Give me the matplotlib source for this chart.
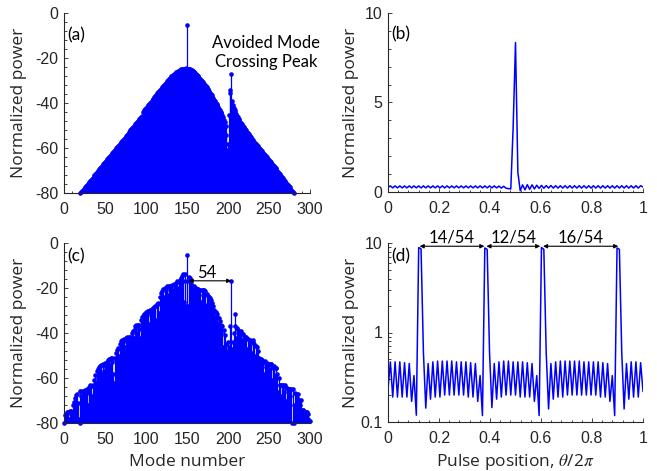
import numpy as np
import matplotlib
matplotlib.use("Agg")
import matplotlib.pyplot as plt
from matplotlib.ticker import AutoMinorLocator, FixedLocator, FixedFormatter, LogLocator, NullFormatter

plt.rcParams['font.family'] = ['Liberation Sans', 'DejaVu Sans']
plt.rcParams['axes.unicode_minus'] = False
plt.rcParams['mathtext.fontset'] = 'stix'

BLUE = '#0000ff'
GREY = '#262626'
ANNO = ['Lato', 'DejaVu Sans']
LABEL = ['Open Sans', 'DejaVu Sans']

# (a) single soliton comb, modes 20..280 (dB)
a_modes = np.arange(20, 281)
a_power = [
    -80.0, -79.5, -79.1, -78.6, -78.2, -77.7, -77.3, -76.8, -76.4, -75.9,
    -75.4, -75.0, -74.5, -74.1, -73.6, -73.2, -72.7, -72.2, -71.8, -71.3,
    -70.9, -70.4, -70.0, -69.5, -69.1, -68.6, -68.1, -67.7, -67.2, -66.8,
    -66.3, -65.9, -65.4, -65.0, -64.5, -64.0, -63.6, -63.1, -62.7, -62.2,
    -61.8, -61.3, -60.9, -60.4, -59.9, -59.5, -59.0, -58.6, -58.1, -57.7,
    -57.2, -56.8, -56.3, -55.8, -55.4, -54.9, -54.5, -54.0, -53.6, -53.1,
    -52.6, -52.2, -51.7, -51.3, -50.8, -50.4, -49.9, -49.5, -49.0, -48.5,
    -48.1, -47.6, -47.2, -46.7, -46.3, -45.8, -44.2, -44.0, -43.2, -42.7,
    -42.2, -41.8, -41.3, -40.8, -40.3, -39.9, -39.4, -38.9, -38.4, -38.0,
    -37.5, -37.0, -36.6, -36.1, -35.6, -35.2, -34.7, -34.2, -33.8, -33.4,
    -33.0, -32.6, -32.1, -31.7, -31.2, -30.8, -30.3, -29.9, -29.4, -29.0,
    -28.6, -28.2, -27.8, -27.5, -27.2, -26.9, -26.6, -26.3, -26.1, -25.9,
    -25.7, -25.5, -25.3, -25.1, -25.0, -24.9, -24.8, -24.7, -24.7, -24.6,
    -5.5, -24.7, -24.8, -24.9, -25.0, -25.2, -25.4, -25.7, -26.0, -26.3,
    -26.6, -27.0, -27.4, -27.8, -28.2, -28.7, -29.2, -29.6, -30.1, -30.6,
    -31.1, -31.6, -32.1, -32.6, -33.1, -33.6, -34.2, -34.8, -35.4, -36.0,
    -36.6, -37.2, -37.9, -38.5, -39.2, -39.8, -40.5, -41.1, -41.8, -42.5,
    -43.1, -43.8, -44.6, -45.4, -46.4, -47.5, -48.6, -50.2, -54.0, -61.0,
    -58.0, -45.5, -34.0, -35.5, -27.0, -39.0, -40.8, -42.0, -43.2, -44.0,
    -44.8, -45.6, -46.3, -47.0, -47.7, -48.3, -48.9, -49.5, -50.1, -50.6,
    -51.1, -51.7, -52.2, -52.8, -53.3, -53.8, -54.3, -54.8, -55.3, -55.8,
    -56.3, -56.8, -57.3, -57.8, -58.3, -58.7, -59.2, -59.6, -60.1, -60.5,
    -60.9, -61.4, -61.8, -62.2, -62.6, -63.1, -63.5, -63.9, -64.3, -64.7,
    -65.2, -65.6, -66.1, -66.6, -67.0, -67.5, -68.0, -68.5, -69.0, -69.5,
    -70.0, -70.5, -71.0, -71.5, -72.0, -72.5, -73.0, -73.5, -74.0, -74.5,
    -75.0, -75.5, -76.0, -76.5, -77.0, -77.5, -78.0, -78.5, -79.0, -79.5,
    -80.0,
]

# (c) soliton crystal comb, modes 0..300 (dB)
c_modes = np.arange(0, 301)
c_power = [
    -80, -76.5, -75.8, -77, -75.2, -75.1, -78, -74.8, -76, -74.6,
    -77.5, -72, -70.6, -74, -69, -67.5, -67.2, -71, -78, -80,
    -65.7, -68, -65.7, -66, -65.7, -70, -65.3, -67, -65, -72,
    -64, -66, -63.2, -63.5, -68, -63.2, -64, -61, -58.7, -62,
    -57, -55.8, -60, -55, -54.5, -54.3, -58, -54, -53.8, -57,
    -53.5, -55, -53.1, -56, -52, -51.6, -54, -51.3, -53, -51,
    -58, -62, -50.9, -52, -49, -47.5, -46.6, -50, -45, -43.6,
    -47, -43.2, -44, -42.8, -46, -42.4, -43, -41.9, -44, -41.7,
    -47, -41.6, -42, -40, -39, -42, -38, -37, -36.4, -40,
    -36.5, -38, -36.3, -42, -34, -33, -32.4, -35, -31.5, -33,
    -30.5, -32, -30.2, -30, -36, -29.6, -31, -29.3, -29, -32,
    -28.5, -28, -34, -27.5, -27, -26.8, -31, -24, -22.3, -28,
    -21.5, -20.5, -24, -19.8, -21, -19.4, -19, -23, -19.2, -19.3,
    -24, -19.3, -18.8, -21, -18.3, -18.5, -26, -17.8, -17.1, -20,
    -17.5, -16.5, -22, -15.5, -14.5, -13.8, -26, -17, -13.8, -28,
    -5.5, -28, -14.9, -17, -15.5, -18, -19, -19.5, -19, -22,
    -20, -20.1, -20.3, -24, -20.6, -20.8, -21, -26, -21, -21.1,
    -23, -21.1, -21.4, -28, -22.5, -23.5, -27, -24, -24.5, -25.3,
    -30, -26.5, -28, -29.7, -33, -30.5, -31.5, -33, -36, -33.5,
    -34.5, -36.4, -40, -37, -46, -38.5, -41, -45, -49, -48,
    -44, -46, -47, -37, -16.8, -47, -44, -40, -31.5, -37,
    -42, -37.9, -38.5, -44, -39, -40, -39.2, -43, -40.5, -46,
    -41.5, -42, -41.9, -47, -42.5, -43, -48, -43.1, -43.5, -49,
    -44, -43.1, -45, -50, -45.8, -46, -48, -54, -50.9, -52,
    -51.5, -55, -51.8, -53, -58, -52.5, -53.8, -53.5, -60, -54,
    -53.8, -56, -53.8, -53.8, -61, -55, -54.5, -59, -55.5, -55.5,
    -58, -66, -60, -63, -62.9, -68, -63, -63.2, -66, -63.2,
    -64, -70, -64.5, -64.7, -64.7, -68, -65, -65.1, -80, -65.1,
    -72, -80, -66.5, -66.9, -69, -66.9, -71, -69.9, -72, -69.9,
    -75, -74.4, -74.4, -77, -75, -75.1, -75.1, -78, -76, -79,
    -79,
]

# (b) and (d) intracavity power vs pulse position, sampled every 1/108
theta = np.linspace(0, 1, 109)
b_power = [
    0.26, 0.34, 0.23, 0.34, 0.23, 0.34, 0.23, 0.34, 0.23, 0.34,
    0.23, 0.34, 0.23, 0.34, 0.23, 0.34, 0.23, 0.34, 0.23, 0.34,
    0.23, 0.34, 0.23, 0.34, 0.23, 0.34, 0.23, 0.34, 0.23, 0.34,
    0.23, 0.34, 0.23, 0.34, 0.23, 0.34, 0.23, 0.34, 0.23, 0.34,
    0.23, 0.34, 0.23, 0.34, 0.23, 0.34, 0.23, 0.33, 0.22, 0.32,
    0.21, 0.19, 0.17, 3.6, 8.35, 1.1, 0.07, 0.40, 0.12, 0.41,
    0.15, 0.40, 0.17, 0.38, 0.20, 0.37, 0.21, 0.36, 0.22, 0.36,
    0.22, 0.35, 0.22, 0.35, 0.22, 0.35, 0.22, 0.35, 0.22, 0.35,
    0.22, 0.35, 0.22, 0.35, 0.22, 0.35, 0.22, 0.35, 0.22, 0.35,
    0.22, 0.35, 0.22, 0.35, 0.22, 0.35, 0.22, 0.35, 0.22, 0.35,
    0.22, 0.35, 0.22, 0.35, 0.22, 0.35, 0.22, 0.35, 0.28,
]
d_power = [
    0.23, 0.47, 0.19, 0.47, 0.19, 0.47, 0.19, 0.46, 0.19, 0.45,
    0.17, 0.33, 0.119, 8.9, 8.6, 0.6, 0.143, 0.45, 0.18, 0.47,
    0.19, 0.48, 0.19, 0.48, 0.2, 0.48, 0.2, 0.48, 0.2, 0.47,
    0.2, 0.47, 0.2, 0.47, 0.19, 0.46, 0.19, 0.45, 0.17, 0.33,
    0.118, 8.8, 8.5, 0.6, 0.145, 0.45, 0.18, 0.47, 0.19, 0.48,
    0.2, 0.48, 0.2, 0.47, 0.2, 0.47, 0.19, 0.47, 0.19, 0.46,
    0.19, 0.45, 0.17, 0.33, 0.118, 8.9, 8.5, 0.6, 0.14, 0.45,
    0.18, 0.47, 0.19, 0.48, 0.19, 0.48, 0.2, 0.48, 0.2, 0.48,
    0.2, 0.48, 0.2, 0.47, 0.2, 0.47, 0.2, 0.47, 0.2, 0.47,
    0.19, 0.46, 0.19, 0.45, 0.17, 0.33, 0.118, 8.8, 8.5, 0.6,
    0.14, 0.45, 0.18, 0.47, 0.19, 0.47, 0.19, 0.46, 0.22,
]
d_spacings = ['14/54', '12/54', '16/54']
d_arrows = [(0.124, 0.378), (0.386, 0.597), (0.608, 0.903)]

fig = plt.figure(figsize=(6.57, 4.71), dpi=100)


def add_ax(l, t, r, b):
    return fig.add_axes([l / 657, 1 - b / 471, (r - l) / 657, (b - t) / 471])


def style(ax):
    ax.spines['top'].set_visible(False)
    ax.spines['right'].set_visible(False)
    for s in ['left', 'bottom']:
        ax.spines[s].set_color(GREY)
        ax.spines[s].set_linewidth(0.8)
    ax.tick_params(which='both', direction='in', colors=GREY, labelsize=11.5, width=0.6)
    ax.tick_params(which='major', length=3)
    ax.tick_params(which='minor', length=1.8)
    ax.tick_params(axis='x', which='major', pad=6.5)
    ax.tick_params(axis='y', which='major', pad=4)


def stems(ax, x, y):
    ax.vlines(x, -80, y, color=BLUE, lw=0.9)
    ax.plot(x, y, 'o', color=BLUE, ms=3.3, mec='none', clip_on=False)
    ax.set_xlim(0, 300)
    ax.set_ylim(-80, 0)
    ax.set_xticks(np.arange(0, 301, 50))
    ax.set_yticks([-80, -60, -40, -20, 0])
    ax.xaxis.set_minor_locator(AutoMinorLocator(5))
    ax.yaxis.set_minor_locator(AutoMinorLocator(5))
    style(ax)
    ax.set_ylabel('Normalized power', family=LABEL, fontsize=12.5, color=GREY)
    ax.yaxis.set_label_coords(-0.15, 0.5)


def pulse_axis(ax):
    ax.set_xlim(0, 1)
    ax.set_xticks([0, 0.2, 0.4, 0.6, 0.8, 1])
    ax.set_xticklabels(['0', '0.2', '0.4', '0.6', '0.8', '1'])
    ax.xaxis.set_minor_locator(AutoMinorLocator(5))
    style(ax)
    ax.set_ylabel('Normalized power', family=LABEL, fontsize=12.5, color=GREY)
    ax.yaxis.set_label_coords(-0.115, 0.5)


# (a)
ax_a = add_ax(64, 13, 310, 193)
stems(ax_a, a_modes, a_power)
ax_a.text(0.012, 0.878, '(a)', transform=ax_a.transAxes, family=ANNO, fontsize=12.5, va='center')
ax_a.text(0.82, 0.78, 'Avoided Mode\nCrossing Peak', transform=ax_a.transAxes, family=ANNO,
          fontsize=12, ha='center', va='center', linespacing=1.25)

# (b)
ax_b = add_ax(388, 13, 643, 192)
ax_b.plot(theta, b_power, color=BLUE, lw=1.1)
ax_b.set_ylim(0, 10)
ax_b.set_yticks([0, 5, 10])
ax_b.yaxis.set_minor_locator(AutoMinorLocator(5))
pulse_axis(ax_b)
ax_b.text(0.014, 0.883, '(b)', transform=ax_b.transAxes, family=ANNO, fontsize=12.5, va='center')

# (c)
ax_c = add_ax(64, 243, 310, 423)
stems(ax_c, c_modes, c_power)
ax_c.text(0.012, 0.924, '(c)', transform=ax_c.transAxes, family=ANNO, fontsize=12.5, va='center')
ax_c.annotate('', xy=(204, -16.8), xytext=(152, -16.8),
              arrowprops=dict(arrowstyle='<|-|>', color='k', lw=0.8, mutation_scale=6,
                              shrinkA=0, shrinkB=0))
ax_c.text(174, -13.4, '54', family=ANNO, fontsize=12, ha='center', va='center')
ax_c.set_xlabel('Mode number', family=LABEL, fontsize=12.5, color=GREY)
ax_c.xaxis.set_label_coords(0.5, -0.172)

# (d)
ax_d = add_ax(388, 243, 643, 422)
ax_d.plot(theta, d_power, color=BLUE, lw=1.1)
ax_d.set_yscale('log')
ax_d.set_ylim(0.1, 10)
ax_d.yaxis.set_major_locator(FixedLocator([0.1, 1, 10]))
ax_d.yaxis.set_major_formatter(FixedFormatter(['0.1', '1', '10']))
ax_d.yaxis.set_minor_locator(LogLocator(base=10, subs=np.arange(2, 10)))
ax_d.yaxis.set_minor_formatter(NullFormatter())
pulse_axis(ax_d)
ax_d.text(0.014, 0.927, '(d)', transform=ax_d.transAxes, family=ANNO, fontsize=12.5, va='center')
for lab, (x0, x1) in zip(d_spacings, d_arrows):
    ax_d.annotate('', xy=(x1, 9.2), xytext=(x0, 9.2), annotation_clip=False,
                  arrowprops=dict(arrowstyle='<|-|>', color='k', lw=0.8, mutation_scale=6,
                                  shrinkA=0, shrinkB=0))
    ax_d.text((x0 + x1) / 2, 11.6, lab, family=ANNO, fontsize=12, ha='center', va='center')
ax_d.set_xlabel(r'Pulse position, $\theta$/2$\pi$', family=LABEL, fontsize=12.5, color=GREY)
ax_d.xaxis.set_label_coords(0.5, -0.165)

fig.savefig('out.png', dpi=100)
